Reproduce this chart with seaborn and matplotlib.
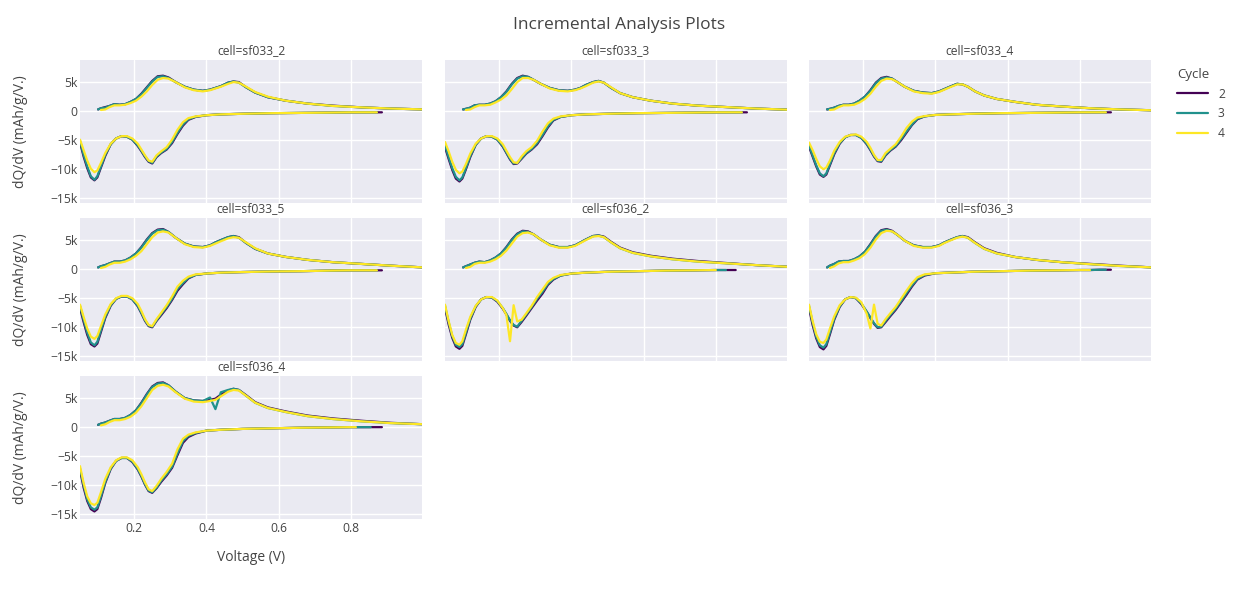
import numpy as np
import pandas as pd
import matplotlib.pyplot as plt
import seaborn as sns
from matplotlib.ticker import FuncFormatter

nan = np.nan

# 数据 (dQ/dV in k mAh/g/V)
cells = ["sf033_2", "sf033_3", "sf033_4", "sf033_5", "sf036_2", "sf036_3", "sf036_4"]
cycles = [2, 3, 4]
cycle_colors = ["#440154", "#21918c", "#fde725"]

v_charge = [0.100, 0.108, 0.120, 0.132, 0.145, 0.160, 0.175, 0.190, 0.205, 0.220, 0.235, 0.250,
            0.265, 0.280, 0.295, 0.315, 0.340, 0.365, 0.390, 0.410, 0.425, 0.440, 0.460, 0.475,
            0.490, 0.510, 0.535, 0.570, 0.620, 0.680, 0.750, 0.830, 0.910, 1.000]
v_discharge = [0.886, 0.872, 0.855, 0.828, 0.814, 0.800, 0.740, 0.660, 0.580, 0.500, 0.440, 0.400,
               0.370, 0.350, 0.335, 0.320, 0.305, 0.290, 0.275, 0.262, 0.250, 0.240, 0.230, 0.220,
               0.210, 0.195, 0.180, 0.165, 0.150, 0.135, 0.120, 0.108, 0.098, 0.090, 0.080, 0.070,
               0.060, 0.050]

# ---- charge branch ----
chg_033_2_c2 = [0.2, 0.4, 0.6, 0.8, 1.1, 1.0, 1.1, 1.5, 2.0, 2.9, 4.0, 5.1, 5.9, 6.0, 5.7, 4.9, 4.1, 3.6, 3.4, 3.6, 3.9, 4.2, 4.8, 5.0, 4.9, 4.0, 3.1, 2.3, 1.7, 1.2, 0.85, 0.55, 0.35, 0.2]
chg_033_2_c3 = [0.2, 0.4, 0.5, 0.8, 1.1, 1.0, 1.1, 1.5, 2.0, 2.8, 3.9, 5.0, 5.8, 5.9, 5.6, 4.9, 4.1, 3.6, 3.4, 3.6, 3.9, 4.2, 4.8, 5.0, 4.8, 4.0, 3.1, 2.3, 1.7, 1.2, 0.8, 0.55, 0.35, 0.2]
chg_033_2_c4 = [nan, 0.1, 0.2, 0.6, 0.9, 0.9, 1.0, 1.3, 1.7, 2.4, 3.3, 4.4, 5.3, 5.6, 5.5, 4.9, 4.0, 3.5, 3.3, 3.5, 3.8, 4.1, 4.6, 4.9, 4.8, 4.1, 3.2, 2.4, 1.7, 1.2, 0.8, 0.55, 0.35, 0.2]

chg_033_3_c2 = [0.2, 0.3, 0.5, 0.9, 1.0, 1.0, 1.2, 1.6, 2.3, 3.3, 4.6, 5.6, 6.0, 5.8, 5.3, 4.6, 3.9, 3.5, 3.4, 3.6, 3.9, 4.4, 4.9, 5.1, 4.8, 3.9, 3.0, 2.3, 1.7, 1.2, 0.85, 0.6, 0.35, 0.15]
chg_033_3_c3 = [0.2, 0.3, 0.5, 0.9, 1.0, 1.0, 1.2, 1.6, 2.3, 3.2, 4.5, 5.5, 5.9, 5.8, 5.3, 4.6, 3.9, 3.5, 3.4, 3.6, 3.9, 4.4, 4.9, 5.1, 4.8, 3.9, 3.0, 2.3, 1.7, 1.2, 0.85, 0.6, 0.35, 0.15]
chg_033_3_c4 = [nan, 0.1, 0.2, 0.6, 0.9, 0.9, 1.0, 1.4, 1.9, 2.6, 3.7, 4.9, 5.6, 5.6, 5.3, 4.6, 3.8, 3.4, 3.3, 3.5, 3.8, 4.2, 4.8, 5.0, 4.8, 4.0, 3.0, 2.3, 1.7, 1.2, 0.85, 0.6, 0.35, 0.15]

chg_033_4_c2 = [0.2, 0.3, 0.5, 0.8, 1.0, 1.0, 1.2, 1.7, 2.4, 3.5, 4.8, 5.6, 5.8, 5.5, 4.9, 4.1, 3.4, 3.1, 3.0, 3.3, 3.7, 4.1, 4.6, 4.5, 4.1, 3.3, 2.6, 2.0, 1.5, 1.0, 0.7, 0.4, 0.2, 0.05]
chg_033_4_c3 = [0.2, 0.3, 0.5, 0.8, 1.0, 1.0, 1.2, 1.7, 2.4, 3.4, 4.7, 5.5, 5.7, 5.5, 4.9, 4.1, 3.4, 3.1, 3.0, 3.3, 3.7, 4.1, 4.6, 4.5, 4.1, 3.3, 2.6, 2.0, 1.5, 1.0, 0.7, 0.4, 0.2, 0.05]
chg_033_4_c4 = [nan, 0.1, 0.2, 0.6, 0.9, 0.9, 1.0, 1.4, 2.0, 2.9, 4.1, 5.1, 5.5, 5.4, 4.9, 4.1, 3.3, 3.0, 2.9, 3.2, 3.6, 4.0, 4.5, 4.5, 4.1, 3.3, 2.6, 2.0, 1.5, 1.0, 0.7, 0.4, 0.2, 0.05]

chg_033_5_c2 = [0.2, 0.4, 0.6, 0.9, 1.2, 1.2, 1.4, 1.9, 2.6, 3.7, 5.0, 6.1, 6.7, 6.8, 6.3, 5.3, 4.3, 3.8, 3.7, 4.0, 4.5, 4.9, 5.4, 5.6, 5.4, 4.4, 3.4, 2.6, 2.0, 1.5, 1.1, 0.8, 0.5, 0.2]
chg_033_5_c3 = [0.2, 0.4, 0.6, 0.9, 1.2, 1.2, 1.4, 1.9, 2.6, 3.6, 4.9, 6.0, 6.6, 6.7, 6.3, 5.3, 4.3, 3.8, 3.7, 4.0, 4.5, 4.9, 5.4, 5.6, 5.3, 4.4, 3.4, 2.6, 2.0, 1.5, 1.1, 0.8, 0.5, 0.2]
chg_033_5_c4 = [nan, 0.1, 0.3, 0.7, 1.0, 1.0, 1.2, 1.6, 2.2, 3.0, 4.2, 5.4, 6.2, 6.4, 6.2, 5.3, 4.2, 3.7, 3.6, 3.9, 4.3, 4.7, 5.2, 5.4, 5.3, 4.5, 3.5, 2.6, 2.0, 1.5, 1.1, 0.8, 0.5, 0.2]

chg_036_2_c2 = [0.2, 0.4, 0.7, 1.0, 1.2, 1.1, 1.4, 1.9, 2.6, 3.7, 5.0, 6.0, 6.5, 6.4, 5.9, 5.0, 4.1, 3.7, 3.7, 4.0, 4.5, 5.0, 5.6, 5.7, 5.5, 4.6, 3.6, 2.8, 2.2, 1.7, 1.3, 0.95, 0.6, 0.3]
chg_036_2_c3 = [0.2, 0.4, 0.7, 1.0, 1.2, 1.1, 1.4, 1.9, 2.6, 3.6, 4.9, 5.9, 6.4, 6.3, 5.9, 5.0, 4.1, 3.7, 3.7, 4.0, 4.5, 5.0, 5.6, 5.7, 5.4, 4.5, 3.5, 2.7, 2.1, 1.6, 1.2, 0.9, 0.6, 0.3]
chg_036_2_c4 = [nan, 0.1, 0.3, 0.8, 1.0, 1.0, 1.2, 1.6, 2.2, 3.1, 4.3, 5.5, 6.1, 6.2, 5.9, 5.0, 4.0, 3.6, 3.6, 3.9, 4.4, 4.9, 5.5, 5.6, 5.4, 4.5, 3.5, 2.7, 2.1, 1.6, 1.2, 0.9, 0.6, 0.3]

chg_036_3_c2 = [0.2, 0.5, 0.8, 1.2, 1.3, 1.3, 1.6, 2.1, 2.9, 4.2, 5.6, 6.6, 6.8, 6.5, 5.8, 4.8, 4.0, 3.7, 3.7, 4.0, 4.5, 4.9, 5.4, 5.6, 5.4, 4.5, 3.5, 2.7, 2.0, 1.5, 1.1, 0.8, 0.5, 0.2]
chg_036_3_c3 = [0.2, 0.5, 0.8, 1.2, 1.3, 1.3, 1.6, 2.1, 2.9, 4.1, 5.5, 6.5, 6.7, 6.4, 5.8, 4.8, 4.0, 3.7, 3.7, 4.0, 4.5, 4.9, 5.4, 5.6, 5.3, 4.4, 3.4, 2.6, 2.0, 1.5, 1.1, 0.75, 0.45, 0.2]
chg_036_3_c4 = [nan, 0.1, 0.4, 0.9, 1.1, 1.1, 1.4, 1.8, 2.5, 3.6, 5.0, 6.1, 6.5, 6.4, 5.8, 4.8, 3.9, 3.6, 3.6, 3.9, 4.4, 4.8, 5.3, 5.5, 5.3, 4.4, 3.4, 2.6, 2.0, 1.5, 1.1, 0.75, 0.45, 0.2]

chg_036_4_c2 = [0.3, 0.5, 0.7, 1.0, 1.3, 1.3, 1.5, 2.0, 2.8, 4.1, 5.6, 6.9, 7.5, 7.6, 7.1, 6.0, 4.9, 4.5, 4.4, 4.6, 4.8, 5.5, 6.2, 6.5, 6.3, 5.4, 4.2, 3.3, 2.6, 1.9, 1.4, 1.0, 0.65, 0.4]
chg_036_4_c3 = [0.3, 0.5, 0.7, 1.0, 1.3, 1.3, 1.5, 2.0, 2.8, 4.0, 5.5, 6.8, 7.4, 7.5, 7.1, 6.0, 4.9, 4.5, 4.4, 5.0, 3.0, 5.9, 6.3, 6.5, 6.3, 5.3, 4.1, 3.2, 2.5, 1.8, 1.3, 0.9, 0.6, 0.4]
chg_036_4_c4 = [nan, 0.2, 0.4, 0.8, 1.1, 1.1, 1.3, 1.7, 2.4, 3.5, 4.9, 6.3, 7.0, 7.2, 6.9, 5.9, 4.8, 4.3, 4.2, 4.4, 4.6, 5.2, 6.0, 6.3, 6.2, 5.3, 4.1, 3.2, 2.5, 1.8, 1.3, 0.9, 0.6, 0.4]

# ---- discharge branch ----
dis_033_2_c2 = [-0.3, -0.3, -0.3, -0.3, -0.3, -0.3, -0.35, -0.4, -0.45, -0.55, -0.65, -0.8, -1.1, -1.6, -2.6, -4.0, -5.6, -6.7, -7.3, -8.0, -9.1, -8.8, -8.0, -7.0, -6.1, -5.0, -4.5, -4.4, -4.8, -5.8, -7.8, -9.8, -11.5, -12.0, -11.5, -9.9, -7.9, -5.5]
dis_033_2_c3 = [nan, -0.3, -0.3, -0.3, -0.3, -0.3, -0.35, -0.4, -0.45, -0.55, -0.65, -0.8, -1.05, -1.5, -2.4, -3.8, -5.4, -6.6, -7.2, -7.9, -9.0, -8.7, -7.9, -6.9, -6.0, -5.0, -4.5, -4.4, -4.8, -5.8, -7.6, -9.6, -11.3, -11.9, -11.3, -9.6, -7.6, -5.2]
dis_033_2_c4 = [nan, -0.3, -0.3, -0.3, -0.3, -0.3, -0.35, -0.4, -0.45, -0.55, -0.65, -0.8, -1.0, -1.3, -2.0, -3.3, -5.0, -6.3, -7.0, -7.7, -8.8, -8.6, -7.7, -6.7, -5.7, -4.8, -4.4, -4.4, -4.8, -5.7, -7.3, -9.0, -10.3, -10.6, -10.0, -8.6, -6.8, -5.0]

dis_033_3_c2 = [-0.3, -0.3, -0.3, -0.3, -0.3, -0.3, -0.35, -0.4, -0.45, -0.55, -0.65, -0.8, -1.1, -1.7, -2.9, -4.4, -5.8, -6.7, -7.4, -8.3, -9.1, -9.2, -8.4, -7.3, -6.2, -5.0, -4.5, -4.4, -4.8, -5.9, -8.0, -10.1, -11.7, -12.2, -11.7, -10.2, -8.3, -6.3]
dis_033_3_c3 = [nan, -0.3, -0.3, -0.3, -0.3, -0.3, -0.35, -0.4, -0.45, -0.55, -0.65, -0.8, -1.1, -1.6, -2.7, -4.2, -5.6, -6.6, -7.3, -8.2, -9.0, -9.1, -8.3, -7.2, -6.1, -5.0, -4.5, -4.4, -4.8, -5.9, -7.8, -9.9, -11.5, -12.0, -11.4, -9.9, -8.0, -6.0]
dis_033_3_c4 = [nan, -0.3, -0.3, -0.3, -0.3, -0.3, -0.35, -0.4, -0.45, -0.55, -0.65, -0.8, -1.0, -1.4, -2.2, -3.6, -5.2, -6.3, -7.0, -7.9, -9.0, -8.9, -8.0, -6.9, -5.8, -4.8, -4.4, -4.4, -4.8, -5.7, -7.4, -9.2, -10.5, -10.8, -10.2, -8.8, -7.0, -5.4]

dis_033_4_c2 = [-0.3, -0.3, -0.3, -0.3, -0.3, -0.3, -0.35, -0.4, -0.45, -0.55, -0.65, -0.75, -1.0, -1.5, -2.5, -3.8, -5.1, -6.2, -6.9, -7.7, -8.8, -8.7, -7.9, -6.8, -5.8, -4.7, -4.2, -4.2, -4.6, -5.7, -7.5, -9.4, -11.0, -11.4, -11.0, -9.6, -7.9, -6.2]
dis_033_4_c3 = [nan, -0.3, -0.3, -0.3, -0.3, -0.3, -0.35, -0.4, -0.45, -0.55, -0.65, -0.75, -1.0, -1.4, -2.4, -3.6, -4.9, -6.1, -6.8, -7.6, -8.7, -8.6, -7.8, -6.7, -5.7, -4.7, -4.2, -4.2, -4.6, -5.6, -7.3, -9.2, -10.8, -11.3, -10.8, -9.4, -7.7, -6.0]
dis_033_4_c4 = [nan, -0.3, -0.3, -0.3, -0.3, -0.3, -0.35, -0.4, -0.45, -0.55, -0.65, -0.75, -0.95, -1.2, -1.9, -3.0, -4.5, -5.8, -6.6, -7.3, -8.5, -8.5, -7.6, -6.4, -5.4, -4.5, -4.1, -4.2, -4.5, -5.4, -6.9, -8.6, -9.8, -10.1, -9.6, -8.3, -6.8, -5.5]

dis_033_5_c2 = [-0.3, -0.3, -0.3, -0.3, -0.3, -0.3, -0.35, -0.45, -0.5, -0.6, -0.7, -0.85, -1.1, -1.7, -2.7, -3.8, -5.4, -6.8, -8.0, -9.0, -10.1, -9.9, -9.0, -7.7, -6.5, -5.3, -4.8, -4.8, -5.2, -6.4, -8.5, -10.9, -12.9, -13.4, -13.0, -11.4, -9.2, -6.8]
dis_033_5_c3 = [nan, -0.3, -0.3, -0.3, -0.3, -0.3, -0.35, -0.45, -0.5, -0.6, -0.7, -0.85, -1.1, -1.6, -2.5, -3.5, -5.2, -6.6, -7.8, -8.9, -10.0, -9.8, -8.9, -7.6, -6.4, -5.3, -4.8, -4.8, -5.2, -6.3, -8.3, -10.6, -12.6, -13.2, -12.7, -11.0, -8.8, -6.4]
dis_033_5_c4 = [nan, -0.3, -0.3, -0.3, -0.3, -0.3, -0.35, -0.45, -0.5, -0.6, -0.7, -0.85, -1.0, -1.4, -2.1, -3.1, -4.8, -6.3, -7.6, -8.7, -9.9, -9.7, -8.7, -7.3, -6.1, -5.1, -4.7, -4.7, -5.1, -6.1, -7.9, -9.9, -11.6, -12.1, -11.7, -10.3, -8.3, -6.2]

dis_036_2_c2 = [nan, nan, -0.25, -0.25, -0.25, -0.25, -0.3, -0.35, -0.45, -0.55, -0.7, -0.86, -1.2, -1.9, -2.8, -4.3, -5.5, -6.8, -8.1, -9.2, -10.1, -9.8, -9.0, -7.9, -6.9, -5.7, -5.0, -4.9, -5.3, -6.6, -8.8, -11.3, -13.3, -13.8, -13.4, -11.9, -9.6, -6.8]
dis_036_2_c3 = [nan, nan, nan, -0.25, -0.25, -0.25, -0.3, -0.35, -0.45, -0.55, -0.7, -0.86, -1.2, -1.8, -2.6, -4.0, -5.2, -6.6, -7.9, -9.0, -10.0, -9.7, -8.9, -7.8, -6.8, -5.6, -5.0, -4.9, -5.3, -6.5, -8.6, -11.0, -13.0, -13.5, -13.1, -11.6, -9.2, -6.4]
dis_036_2_c4 = [nan, nan, nan, nan, nan, -0.25, -0.3, -0.35, -0.45, -0.55, -0.7, -0.86, -1.1, -1.6, -2.3, -3.6, -4.9, -6.4, -7.7, -8.8, -9.1, -6.3, -12.5, -8.0, -6.8, -5.5, -4.9, -4.9, -5.3, -6.4, -8.3, -10.5, -12.5, -13.1, -12.8, -11.4, -9.0, -6.2]

dis_036_3_c2 = [-0.2, -0.2, -0.2, -0.25, -0.25, -0.25, -0.3, -0.35, -0.45, -0.55, -0.7, -0.8, -1.2, -1.9, -3.1, -4.5, -5.8, -7.1, -8.2, -9.2, -10.1, -10.2, -9.5, -8.5, -7.5, -6.1, -5.1, -4.9, -5.3, -6.6, -8.8, -11.3, -13.3, -13.9, -13.5, -12.0, -9.7, -6.8]
dis_036_3_c3 = [nan, -0.2, -0.2, -0.25, -0.25, -0.25, -0.3, -0.35, -0.45, -0.55, -0.7, -0.8, -1.1, -1.8, -2.9, -4.2, -5.6, -6.9, -8.0, -9.0, -10.0, -10.1, -9.4, -8.4, -7.4, -6.0, -5.1, -4.9, -5.3, -6.5, -8.6, -11.0, -13.0, -13.6, -13.2, -11.7, -9.3, -6.4]
dis_036_3_c4 = [nan, nan, nan, -0.25, -0.25, -0.25, -0.3, -0.35, -0.45, -0.55, -0.7, -0.8, -1.0, -1.5, -2.5, -3.8, -5.2, -6.6, -7.7, -8.7, -9.8, -9.5, -6.2, -10.3, -7.8, -5.8, -5.0, -4.9, -5.3, -6.3, -8.2, -10.3, -12.2, -12.8, -12.6, -11.3, -9.0, -6.2]

dis_036_4_c2 = [-0.1, -0.1, -0.1, -0.1, -0.1, -0.1, -0.15, -0.2, -0.3, -0.4, -0.55, -0.7, -1.2, -1.8, -2.8, -4.9, -7.1, -8.4, -9.5, -10.6, -11.4, -11.1, -10.0, -8.6, -7.4, -6.1, -5.4, -5.4, -5.9, -7.3, -9.7, -12.3, -14.2, -14.6, -14.2, -12.8, -10.5, -7.5]
dis_036_4_c3 = [nan, nan, -0.1, -0.1, -0.1, -0.1, -0.15, -0.2, -0.3, -0.4, -0.55, -0.7, -1.1, -1.6, -2.5, -4.6, -6.9, -8.2, -9.3, -10.5, -11.3, -11.0, -9.9, -8.5, -7.3, -6.0, -5.4, -5.4, -5.9, -7.2, -9.5, -12.0, -13.9, -14.3, -13.9, -12.5, -10.1, -7.2]
dis_036_4_c4 = [nan, nan, nan, nan, -0.1, -0.1, -0.15, -0.2, -0.3, -0.4, -0.55, -0.7, -1.0, -1.4, -2.1, -3.9, -6.4, -7.8, -9.0, -10.2, -11.1, -10.8, -9.6, -8.2, -7.0, -5.8, -5.3, -5.3, -5.8, -7.0, -9.0, -11.3, -13.1, -13.5, -13.2, -12.0, -9.7, -6.8]

charge = {
    ("sf033_2", 2): chg_033_2_c2, ("sf033_2", 3): chg_033_2_c3, ("sf033_2", 4): chg_033_2_c4,
    ("sf033_3", 2): chg_033_3_c2, ("sf033_3", 3): chg_033_3_c3, ("sf033_3", 4): chg_033_3_c4,
    ("sf033_4", 2): chg_033_4_c2, ("sf033_4", 3): chg_033_4_c3, ("sf033_4", 4): chg_033_4_c4,
    ("sf033_5", 2): chg_033_5_c2, ("sf033_5", 3): chg_033_5_c3, ("sf033_5", 4): chg_033_5_c4,
    ("sf036_2", 2): chg_036_2_c2, ("sf036_2", 3): chg_036_2_c3, ("sf036_2", 4): chg_036_2_c4,
    ("sf036_3", 2): chg_036_3_c2, ("sf036_3", 3): chg_036_3_c3, ("sf036_3", 4): chg_036_3_c4,
    ("sf036_4", 2): chg_036_4_c2, ("sf036_4", 3): chg_036_4_c3, ("sf036_4", 4): chg_036_4_c4,
}
discharge = {
    ("sf033_2", 2): dis_033_2_c2, ("sf033_2", 3): dis_033_2_c3, ("sf033_2", 4): dis_033_2_c4,
    ("sf033_3", 2): dis_033_3_c2, ("sf033_3", 3): dis_033_3_c3, ("sf033_3", 4): dis_033_3_c4,
    ("sf033_4", 2): dis_033_4_c2, ("sf033_4", 3): dis_033_4_c3, ("sf033_4", 4): dis_033_4_c4,
    ("sf033_5", 2): dis_033_5_c2, ("sf033_5", 3): dis_033_5_c3, ("sf033_5", 4): dis_033_5_c4,
    ("sf036_2", 2): dis_036_2_c2, ("sf036_2", 3): dis_036_2_c3, ("sf036_2", 4): dis_036_2_c4,
    ("sf036_3", 2): dis_036_3_c2, ("sf036_3", 3): dis_036_3_c3, ("sf036_3", 4): dis_036_3_c4,
    ("sf036_4", 2): dis_036_4_c2, ("sf036_4", 3): dis_036_4_c3, ("sf036_4", 4): dis_036_4_c4,
}

rows = []
for cell in cells:
    for cyc in cycles:
        for branch, vs, qs in (("discharge", v_discharge, discharge[(cell, cyc)]),
                               ("charge", v_charge, charge[(cell, cyc)])):
            for v, q in zip(vs, qs):
                if not np.isnan(q):
                    rows.append({"cell": cell, "cycle": cyc, "branch": branch,
                                 "voltage": v, "dqdv": q})
df = pd.DataFrame(rows)

# 画图
sns.set_theme(style="darkgrid", rc={"axes.facecolor": "#EAEAF2", "grid.color": "white",
                                    "grid.linewidth": 1.0})
plt.rcParams['font.family'] = ['Open Sans', 'DejaVu Sans']
plt.rcParams['axes.unicode_minus'] = True
txt = "#444444"

W, H = 1238, 600
fig = plt.figure(figsize=(W / 100, H / 100), dpi=100)
fig.patch.set_facecolor("white")

col_x = [80, 445, 809]
row_y = [60, 218, 376]
pw, ph = 342, 143
palette = dict(zip(cycles, cycle_colors))


def kfmt(v, p):
    if abs(v) < 1e-9:
        return "0"
    return ("%gk" % v).replace("-", "\u2212")


axes = []
for i, cell in enumerate(cells):
    r, c = divmod(i, 3)
    ax = fig.add_axes([col_x[c] / W, 1 - (row_y[r] + ph) / H, pw / W, ph / H])
    sub = df[df["cell"] == cell]
    sns.lineplot(data=sub, x="voltage", y="dqdv", hue="cycle", hue_order=cycles,
                 palette=palette, units="branch", estimator=None, sort=False,
                 linewidth=1.6, ax=ax, legend=(i == 0))
    ax.set_xlim(0.05, 0.997)
    ax.set_ylim(-15.9, 8.7)
    ax.set_xticks([0.2, 0.4, 0.6, 0.8])
    ax.set_yticks([-15, -10, -5, 0, 5])
    ax.yaxis.set_major_formatter(FuncFormatter(kfmt))
    ax.tick_params(length=0, labelsize=8.7, colors=txt, pad=2)
    ax.set_xlabel("")
    ax.set_ylabel("")
    for s in ax.spines.values():
        s.set_visible(False)
    if c != 0:
        ax.tick_params(labelleft=False)
    if not (r == 2 and c == 0):
        ax.tick_params(labelbottom=False)
    ax.set_title("cell=" + cell, fontsize=8.7, color=txt, pad=4)
    if c == 0:
        ax.set_ylabel("dQ/dV (mAh/g/V.)", fontsize=10, color=txt, labelpad=16)
    axes.append(ax)

axes[6].set_xlabel("Voltage (V)", fontsize=10, color=txt, labelpad=11)

handles, labels = axes[0].get_legend_handles_labels()
axes[0].get_legend().remove()
leg = fig.legend(handles, labels, title="Cycle", loc="upper left",
                 bbox_to_anchor=(1166 / W, 1 - 57 / H), frameon=False,
                 fontsize=8.7, title_fontsize=9.5, handlelength=2.6,
                 labelspacing=0.55, alignment="left")
for t in leg.get_texts():
    t.set_color(txt)
leg.get_title().set_color(txt)
for h in leg.legend_handles:
    h.set_linewidth(1.6)

fig.suptitle("Incremental Analysis Plots", x=0.5, y=1 - 25 / H, va="center",
             fontsize=12.5, color=txt)

fig.savefig("out.png", dpi=100, facecolor="white")
